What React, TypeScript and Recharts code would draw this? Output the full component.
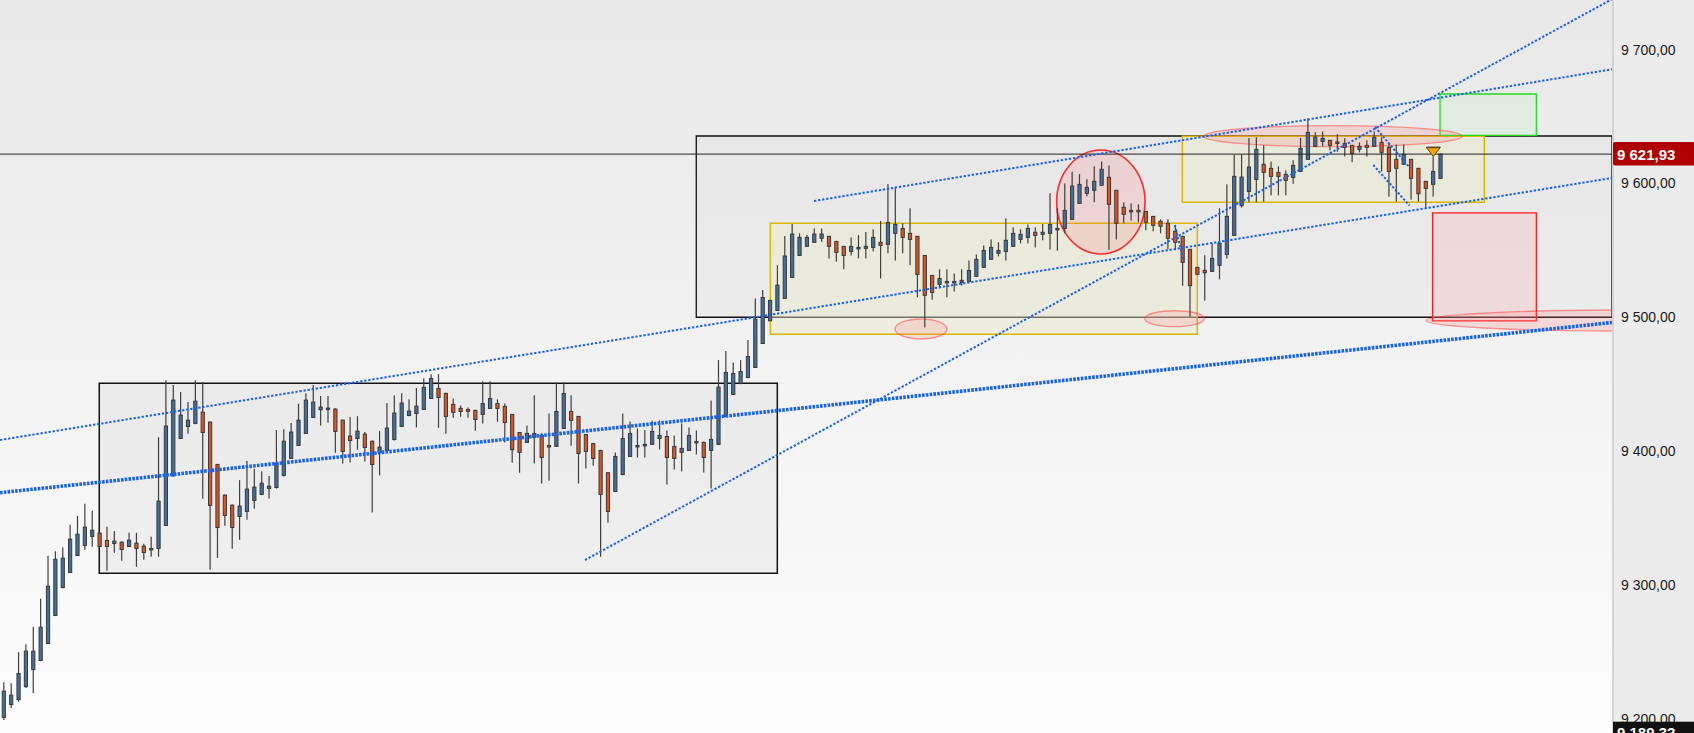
import React from 'react';
import { ComposedChart, Bar, XAxis, YAxis, ReferenceArea, ReferenceLine, ReferenceDot } from 'recharts';

const W = 1694;
const H = 733;
const AXIS_W = 82;
const PLOT_W = W - AXIS_W;
const FONT = '"Liberation Sans", Arial, sans-serif';

// ---- candle values (index 0..195) ----
const openP = [
  9201, 9210.6, 9214.3, 9224, 9236.7, 9243.5, 9256.2, 9277.1, 9298, 9309.3,
  9322, 9329.5, 9336.2, 9338.7, 9333.2, 9330.9, 9331.9, 9328.7, 9331.2, 9329,
  9326.5, 9327.2, 9344.4, 9381.5, 9409.4, 9418.4, 9420.7, 9429.1, 9421.7, 9390,
  9367.1, 9359.6, 9351.1, 9354.9, 9363.1, 9367.6, 9372.1, 9372.8, 9381.8, 9394.5,
  9404.2, 9413.2, 9425.1, 9430.9, 9431.1, 9431.4, 9423.1, 9411.2, 9409.4, 9412.7,
  9407.4, 9399, 9400.5, 9408.7, 9418.4, 9426.6, 9428.1, 9431.1, 9439.3, 9446.8,
  9443.1, 9434.9, 9431.9, 9431.1, 9430.4, 9427.4, 9431.9, 9435.6, 9433.4, 9427.4,
  9413.9, 9406.5, 9410.2, 9411.7, 9403.5, 9403.5, 9416.9, 9429.6, 9425.9, 9412.4,
  9405.7, 9400.5, 9383.8, 9369.8, 9382.5, 9396, 9403.2, 9404.2, 9405, 9409.4,
  9410.9, 9403.5, 9399, 9400.5, 9406.5, 9406.5, 9400.5, 9405, 9425.9, 9442.3,
  9450.5, 9455, 9462.5, 9480.4, 9497.4, 9505.1, 9514.1, 9529.8, 9546.2, 9553,
  9556, 9559, 9560.5, 9556.7, 9553, 9549.2, 9551.5, 9551.5, 9552.2, 9556,
  9554.5, 9562.7, 9566.4, 9562.7, 9560.5, 9546.2, 9531.3, 9524.6, 9526, 9526,
  9526, 9526.8, 9530.6, 9537.3, 9543.3, 9547.8, 9549.2, 9553, 9558.2, 9559.7,
  9563.5, 9562, 9562.7, 9565.7, 9566.4, 9573.2, 9585.1, 9592.6, 9594.9, 9598.6,
  9604.6, 9594.9, 9582.2, 9579.9, 9579.9, 9579.1, 9575.4, 9571.7, 9570.2, 9564.2,
  9560.5, 9550.8, 9537.3, 9535.1, 9534.3, 9538.8, 9547, 9561.2, 9583.4, 9594.1,
  9603, 9614.3, 9611.3, 9608.3, 9606.8, 9604.5, 9609, 9618, 9627.7, 9631.4,
  9632.2, 9630.5, 9630, 9628.5, 9625.5, 9628.5, 9627.7, 9630.7, 9627, 9618,
  9614.3, 9618, 9611.3, 9601.6, 9599.3, 9603.8,
];
const highP = [
  9227.3, 9226.5, 9249.7, 9255.7, 9268.6, 9289.6, 9321.7, 9325.2, 9328.2, 9344.9,
  9351.6, 9360.6, 9355.4, 9339, 9343.4, 9340.2, 9332.7, 9338.9, 9338.9, 9330.7,
  9335.9, 9410.4, 9453, 9449.3, 9444.1, 9436.6, 9453, 9451.6, 9422, 9390.5,
  9367.5, 9360, 9378.3, 9392.5, 9386.8, 9385, 9381.3, 9415.7, 9416.4, 9420.9,
  9435.4, 9443.3, 9449.3, 9441.1, 9441.1, 9432, 9423.5, 9425.4, 9426.1, 9414.2,
  9407.8, 9414.9, 9435.9, 9441.8, 9443.3, 9438.8, 9447.1, 9454.5, 9457.5, 9457.5,
  9443.5, 9439.3, 9434.1, 9432.6, 9430.8, 9452.1, 9452.1, 9438.6, 9435.6, 9427.8,
  9414.2, 9419.2, 9441.8, 9413.2, 9428.1, 9451.3, 9451.3, 9441.8, 9426.2, 9412.8,
  9406, 9400.9, 9384.2, 9399, 9428.1, 9422.1, 9416.9, 9415.7, 9422.9, 9422.9,
  9415.4, 9411.7, 9420.7, 9417.7, 9415.4, 9407.2, 9437.8, 9468, 9474.7, 9466.2,
  9468, 9483, 9514.1, 9520.3, 9513, 9539, 9560.7, 9569.7, 9562.7, 9561.4,
  9566.4, 9566.4, 9560.8, 9557, 9553.3, 9559.7, 9561.4, 9563.7, 9565.7, 9571.9,
  9599.6, 9597.6, 9570.2, 9581.4, 9560.8, 9546.5, 9531.6, 9535.8, 9535.8, 9532.8,
  9535.8, 9542.5, 9547, 9553.7, 9558.2, 9556, 9573.9, 9567.2, 9565.7, 9569.4,
  9567.2, 9569.7, 9592.6, 9581.4, 9600, 9608.8, 9607, 9603.1, 9612.8, 9616.5,
  9613.5, 9595.2, 9585.9, 9585.1, 9584.4, 9579.4, 9575.7, 9573.2, 9573.2, 9568.7,
  9560.8, 9551.1, 9537.6, 9546.3, 9555.3, 9581.4, 9599.4, 9621.3, 9621.7, 9634,
  9634.5, 9628.5, 9616.5, 9612.8, 9609.8, 9617.3, 9634, 9648.6, 9638.2, 9638.9,
  9632.5, 9636.7, 9633.7, 9628.8, 9630.7, 9632.2, 9638.9, 9634.5, 9630.7, 9629.2,
  9629.2, 9618.3, 9611.6, 9601.9, 9620.2, 9622.2,
];
const lowP = [
  9199, 9208, 9212.6, 9223, 9219.3, 9243, 9256, 9277, 9297.5, 9309,
  9322, 9326.2, 9328.5, 9328, 9310.5, 9324, 9318, 9328.5, 9313.5, 9318.7,
  9321, 9321, 9344, 9381, 9409, 9412.9, 9420, 9364.3, 9311.3, 9320.2,
  9344.2, 9327, 9333.7, 9348.6, 9356.9, 9367, 9364.6, 9372, 9381, 9394,
  9404, 9413, 9425, 9419.2, 9421.2, 9398.7, 9390.8, 9391.5, 9401, 9392.2,
  9354.1, 9381.8, 9400, 9408, 9418, 9426, 9417.7, 9431, 9439, 9417.4,
  9412.9, 9424.9, 9425.6, 9424.9, 9415.2, 9420.7, 9431.5, 9421.9, 9406.5, 9391.2,
  9383.8, 9406, 9390.8, 9375.8, 9377.8, 9403, 9416.5, 9404, 9375.8, 9387,
  9389, 9321, 9346.6, 9369.5, 9382, 9395.5, 9395.2, 9395.2, 9404.7, 9401.2,
  9375.1, 9386.3, 9384.8, 9400, 9397.5, 9384, 9372.1, 9404.5, 9425.5, 9442,
  9450, 9454.5, 9462, 9480, 9497, 9505, 9514, 9529.5, 9546, 9552.8,
  9555.8, 9556.5, 9544, 9541.5, 9535.8, 9546.2, 9544, 9544, 9549.2, 9529,
  9547.8, 9542.5, 9547.8, 9538.8, 9514.9, 9492.4, 9513.1, 9521.6, 9514.9, 9519.3,
  9523.8, 9526.5, 9530.3, 9537, 9543, 9545.5, 9542.5, 9552.8, 9555.2, 9555.2,
  9552.2, 9557.5, 9550.7, 9549.7, 9562.7, 9573, 9585, 9590.4, 9585.9, 9598.3,
  9550.5, 9558.2, 9570.2, 9572.4, 9571, 9565, 9564.2, 9562.7, 9550.8, 9550,
  9523.6, 9500.4, 9531.8, 9512.4, 9534, 9528.3, 9544, 9561, 9582, 9586,
  9586, 9586.4, 9591.1, 9591.1, 9591.1, 9599.8, 9608.7, 9617.7, 9627.4, 9627.7,
  9624.7, 9623.7, 9620.2, 9615.8, 9623.2, 9620.2, 9627.4, 9609, 9590, 9586.4,
  9614, 9587.9, 9586.4, 9581.4, 9590.1, 9603.5,
];
const closeP = [
  9220.6, 9217.6, 9233.8, 9250.5, 9250.5, 9268.4, 9299, 9319.2, 9320, 9334.2,
  9337.9, 9343.2, 9340.9, 9328.7, 9328.7, 9332.7, 9326.5, 9333.4, 9327.2, 9324.2,
  9327.2, 9362.6, 9418.7, 9438.1, 9426.9, 9423.1, 9437.3, 9413.9, 9359.4, 9342.9,
  9351.9, 9342.9, 9358.9, 9371.6, 9373.1, 9376, 9373.8, 9391, 9407.4, 9414.2,
  9423.1, 9438.1, 9436.6, 9432.9, 9432.1, 9414.7, 9399.7, 9407.9, 9414.9, 9402.7,
  9390, 9403, 9417.2, 9428.4, 9435.9, 9429.9, 9433.6, 9447.6, 9454.3, 9440.1,
  9425.9, 9428.9, 9429.6, 9429.6, 9423.6, 9435.6, 9439.3, 9431.9, 9421.4, 9401,
  9399, 9413.2, 9413.2, 9395.2, 9404.2, 9429.6, 9443.1, 9422.9, 9398.2, 9399.7,
  9394.5, 9367.6, 9354.9, 9396, 9409.4, 9413.2, 9404.2, 9405, 9414.7, 9411.7,
  9395.2, 9394.5, 9402, 9411.7, 9407.2, 9395.2, 9408.7, 9447.8, 9458.8, 9458,
  9459.5, 9470.7, 9498.6, 9514.8, 9512.6, 9524, 9545.8, 9562.2, 9559.7, 9559.7,
  9562.2, 9562.2, 9553, 9548.5, 9546.2, 9553, 9552.2, 9553, 9559.7, 9553.7,
  9570.9, 9569.4, 9559.7, 9558.2, 9532, 9516.4, 9518.6, 9529, 9526.8, 9526.8,
  9527.6, 9535, 9543.3, 9550, 9552.2, 9550, 9557.5, 9562.7, 9562, 9566.4,
  9561.2, 9563.5, 9569.4, 9566.4, 9579.9, 9598, 9599.3, 9597.1, 9601.6, 9610.6,
  9584.4, 9570.2, 9576.9, 9579.1, 9579.1, 9571, 9568.7, 9568, 9559, 9556,
  9541, 9523.6, 9532.1, 9533.3, 9544, 9555.3, 9575.4, 9605.3, 9604.8, 9612.3,
  9625.5, 9608.3, 9605.3, 9605.3, 9602.3, 9613.5, 9626.2, 9638.2, 9634.7, 9633.7,
  9628.5, 9631, 9627, 9622.5, 9627.7, 9627, 9634.5, 9623.2, 9609, 9611.3,
  9621.8, 9603.8, 9592.3, 9596.3, 9609, 9621.93,
];

// ---- axes ----
const Y_DOMAIN: [number, number] = [9189.32, 9737.1];
const XMIN = -0.5429;
const XMAX = 218.25;
const yTicks = [9200, 9300, 9400, 9500, 9600, 9700];
const LAST_PRICE = 9621.93;
const LOW_PRICE = 9189.32;
const MARKER_INDEX = 194;

// ---- drawing annotations, in (candle index, price) ----
const grayBoxes = [
  [12.93, 104.96, 9308.66, 9450.65],
  [93.96, XMAX, 9500.0, 9635.46],
];
const yellowBoxes = [
  [104.01, 161.96, 9487.27, 9570.22],
  [159.93, 200.92, 9585.92, 9635.24],
];
const targetBox = [194.91, 207.98, 9635.99, 9666.85];
const stopBox = [193.9, 207.98, 9497.28, 9578.07];
const bigCircle = [142.87, 154.87, 9547.3, 9625.0];
const softEllipses = [
  [120.93, 127.99, 9483.8, 9498.7],
  [154.83, 162.92, 9493.0, 9504.9],
  [162.87, 197.93, 9627.5, 9643.2],
  [193.0, 247.0, 9489.7, 9505.4],
];
const thinLines = [
  [XMIN, 9408.28, XMAX, 9604.08],
  [78.86, 9318.6, XMAX, 9737.7],
  [109.94, 9586.9, XMAX, 9685.3],
  [185.85, 9613.8, 190.76, 9583.5],
  [186.08, 9642.2, 190.83, 9611.5],
  [158.9, 9568.95, 160.16, 9541.5],
];
const heavyLine = [XMIN, 9368.89, XMAX, 9496.09];

const data = openP.map((o, i) => ({ i, o, h: highP[i], l: lowP[i], c: closeP[i] }));

const fmt = (v: number) => {
  const [a, b] = v.toFixed(2).split('.');
  return a.replace(/\B(?=(\d{3})+(?!\d))/g, ' ') + ',' + b;
};

const Candle = (props: any) => {
  const { x, y, width, height, payload } = props;
  if (payload == null || x == null || y == null) return null;
  const { o, h, l, c } = payload;
  const cx = x + width / 2;
  const k = height / (h - l || 1);
  const yOf = (v: number) => y + (h - v) * k;
  const top = yOf(Math.max(o, c));
  const bot = yOf(Math.min(o, c));
  const bh = Math.max(bot - top, 1.5);
  const up = c >= o;
  return (
    <g>
      <line x1={cx} x2={cx} y1={y} y2={y + height} stroke="#3e3e3e" strokeWidth={1.2} />
      <rect x={cx - 1.6} y={top} width={3.2} height={bh} fill={up ? '#41709f' : '#e2521c'} stroke="#3a3a3a" strokeWidth={1} />
    </g>
  );
};

const AxisTick = (props: any) => {
  const { y, payload } = props;
  const v = payload.value;
  if (v === LAST_PRICE) {
    return (
      <g>
        <rect x={PLOT_W + 1} y={y - 12} width={AXIS_W} height={23.5} rx={2} fill="#b00000" />
        <text x={PLOT_W + 5} y={y} dy="0.36em" fill="#ffffff" fontWeight="bold" fontSize={15} fontFamily={FONT}>
          {fmt(v)}
        </text>
      </g>
    );
  }
  if (v === LOW_PRICE) {
    return (
      <g>
        <rect x={PLOT_W + 1} y={y - 11.3} width={AXIS_W} height={24} fill="#111111" />
        <text x={PLOT_W + 5} y={y} dy="0.36em" fill="#ffffff" fontWeight="bold" fontSize={15} fontFamily={FONT}>
          {fmt(v)}
        </text>
      </g>
    );
  }
  return (
    <text x={PLOT_W + 9} y={y} dy="0.36em" fill="#1a1a1a" fontSize={14} fontFamily={FONT}>
      {fmt(v)}
    </text>
  );
};

let clipSeq = 0;
const ellipseShape = (stroke: string, fill: string, sw: number) => (p: any) => {
  if (p == null || p.x == null) return null;
  const id = 'ell-clip-' + (clipSeq++);
  return (
    <g>
      <defs>
        <clipPath id={id}>
          <rect x={0} y={0} width={PLOT_W} height={H} />
        </clipPath>
      </defs>
      <ellipse
        clipPath={`url(#${id})`}
        cx={p.x + p.width / 2}
        cy={p.y + p.height / 2}
        rx={Math.abs(p.width) / 2}
        ry={Math.abs(p.height) / 2}
        stroke={stroke}
        fill={fill}
        strokeWidth={sw}
      />
    </g>
  );
};

const Marker = (p: any) => {
  if (p == null || p.cx == null) return null;
  const { cx, cy } = p;
  return (
    <g>
      <polygon points={`${cx - 7},${cy - 9} ${cx + 7},${cy - 9} ${cx},${cy}`} fill="#f6a200" stroke="#6e4a00" strokeWidth={1} />
      <line x1={cx - 7} x2={cx + 7} y1={cy - 9} y2={cy - 9} stroke="#5a4a30" strokeWidth={1.6} />
    </g>
  );
};

export default function App() {
  return (
    <div style={{ position: 'absolute', left: 0, top: 0, width: W, height: H, overflow: 'hidden' }}>
      <div style={{ position: 'absolute', left: 0, top: 0, width: PLOT_W, height: H, background: 'linear-gradient(#e8e8e8, #fdfdfd)' }} />
      <div style={{ position: 'absolute', left: PLOT_W, top: 0, width: AXIS_W, height: H, background: '#ececec', borderLeft: '2px solid #d4d4d4', boxSizing: 'border-box' }} />
      <div style={{ position: 'absolute', left: 0, top: 0 }}>
        <ComposedChart width={W} height={H} data={data} margin={{ top: 0, right: 0, bottom: 0, left: 0 }}>
          <XAxis type="number" dataKey="i" domain={[XMIN, XMAX]} allowDataOverflow hide />
          <YAxis
            orientation="right"
            width={AXIS_W}
            type="number"
            domain={Y_DOMAIN}
            allowDataOverflow
            ticks={[...yTicks, LAST_PRICE, LOW_PRICE]}
            interval={0}
            axisLine={false}
            tickLine={false}
            tick={AxisTick}
          />
          {grayBoxes.map((b, k) => (
            <ReferenceArea key={'g' + k} x1={b[0]} x2={b[1]} y1={b[2]} y2={b[3]} ifOverflow="hidden"
              fill={k === 0 ? 'rgba(0,0,0,0.035)' : 'rgba(0,0,0,0.02)'} fillOpacity={1} stroke="#111" strokeWidth={k === 0 ? 1.5 : 1.3} />
          ))}
          {yellowBoxes.map((b, k) => (
            <ReferenceArea key={'y' + k} x1={b[0]} x2={b[1]} y1={b[2]} y2={b[3]} ifOverflow="hidden"
              fill="rgba(236,236,205,0.45)" fillOpacity={1} stroke="#d9b800" strokeWidth={1.5} />
          ))}
          <ReferenceArea x1={targetBox[0]} x2={targetBox[1]} y1={targetBox[2]} y2={targetBox[3]} ifOverflow="hidden"
            fill="rgba(190,240,190,0.25)" fillOpacity={1} stroke="#22dd22" strokeWidth={1.3} />
          <ReferenceArea x1={stopBox[0]} x2={stopBox[1]} y1={stopBox[2]} y2={stopBox[3]} ifOverflow="hidden"
            fill="rgba(255,160,160,0.22)" fillOpacity={1} stroke="#ff1a1a" strokeWidth={1.3} />
          <ReferenceLine y={LAST_PRICE} stroke="#222" strokeWidth={1} ifOverflow="hidden" />
          <Bar dataKey={(d: any) => [d.l, d.h]} barSize={5} shape={Candle} isAnimationActive={false} />
          <ReferenceArea x1={bigCircle[0]} x2={bigCircle[1]} y1={bigCircle[2]} y2={bigCircle[3]} ifOverflow="hidden"
            shape={ellipseShape('#ff2a2a', 'rgba(255,110,110,0.18)', 1.6)} />
          {softEllipses.map((e, k) => (
            <ReferenceArea key={'e' + k} x1={e[0]} x2={e[1]} y1={e[2]} y2={e[3]} ifOverflow="hidden"
              shape={ellipseShape('rgba(255,60,60,0.5)', 'rgba(255,120,120,0.2)', 1.4)} />
          ))}
          <ReferenceLine segment={[{ x: heavyLine[0], y: heavyLine[1] }, { x: heavyLine[2], y: heavyLine[3] }]}
            stroke="#1a62f0" strokeWidth={3.6} strokeDasharray="2.6 1.2" ifOverflow="hidden" />
          {thinLines.map((s, k) => (
            <ReferenceLine key={'t' + k} segment={[{ x: s[0], y: s[1] }, { x: s[2], y: s[3] }]}
              stroke="#1a60f0" strokeWidth={2} strokeDasharray="2.3 1.8" ifOverflow="hidden" />
          ))}
          <ReferenceDot x={MARKER_INDEX} y={highP[MARKER_INDEX]} ifOverflow="visible" shape={Marker} />
        </ComposedChart>
      </div>
    </div>
  );
}
